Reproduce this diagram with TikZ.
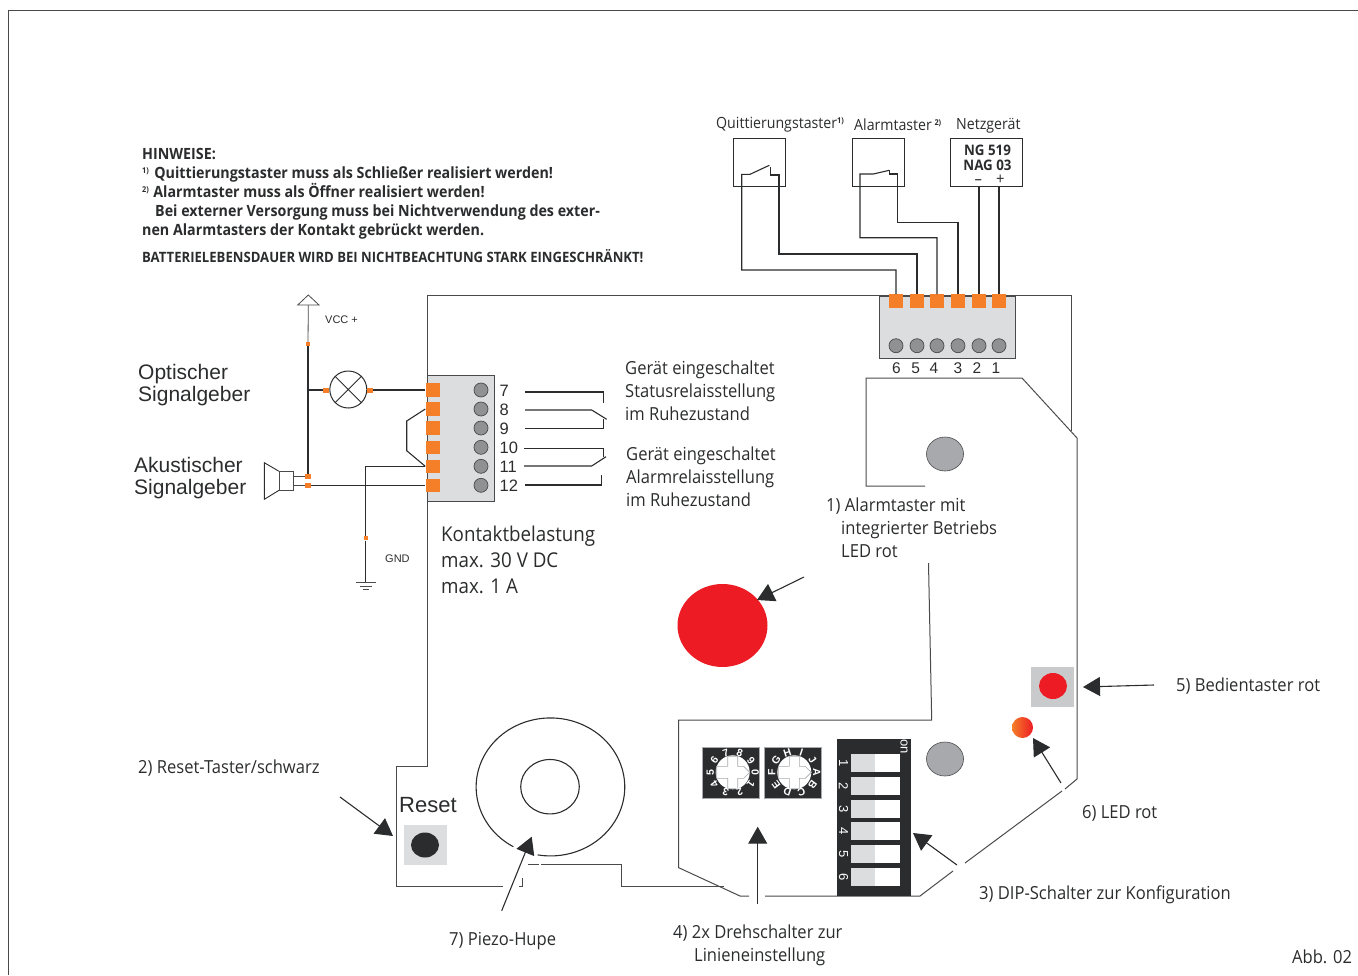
\documentclass[tikz,border=0pt]{standalone}
\usepackage{fontspec}
\setmainfont[FakeStretch=0.92]{Open Sans}
\newfontfamily\arialfont{Liberation Sans}
\usetikzlibrary{arrows.meta, shapes.geometric}
\definecolor{termorange}{HTML}{F47F28}
\definecolor{blockgray}{HTML}{DCDDDF}
\definecolor{basegray}{HTML}{C9CACC}
\definecolor{screwgray}{HTML}{8F9193}
\definecolor{ledgray}{HTML}{A7A9AC}
\definecolor{signalred}{HTML}{ED1C24}
\definecolor{inkblack}{HTML}{2B2C2D}
\definecolor{outlinegray}{HTML}{4A4A4C}
\tikzset{
  wire/.style={draw=inkblack, line width=1.1pt},
  board/.style={draw=outlinegray, line width=1pt},
  pointer/.style={draw=inkblack, line width=1.1pt, -{Triangle[length=17pt,width=19pt]}},
  term/.style={rectangle, fill=termorange, minimum width=14pt, minimum height=13.5pt, inner sep=0pt},
  tick/.style={rectangle, fill=termorange, minimum width=5.5pt, minimum height=5pt, inner sep=0pt},
  screw/.style={circle, draw=outlinegray, fill=screwgray, minimum size=14pt, inner sep=0pt, line width=0.7pt},
  body/.style={anchor=west, align=left, inner sep=0pt, text=inkblack, font=\fontsize{18}{23}\selectfont},
  arial/.style={anchor=west, align=left, inner sep=0pt, text=inkblack, font=\arialfont\fontsize{21}{22}\selectfont},
  pin/.style={inner sep=0pt, text=inkblack, font=\arialfont\fontsize{15.5}{16}\selectfont},
  toplabel/.style={anchor=west, inner sep=0pt, text=inkblack, font=\fontsize{15.4}{16}\selectfont},
  switchbox/.style={draw=inkblack, line width=1.1pt},
  dipslot/.style={rectangle, minimum width=24pt, minimum height=17.5pt, inner sep=0pt},
  dial/.style={rectangle, draw=ledgray, fill=inkblack, minimum width=57pt, minimum height=51pt, inner sep=0pt, line width=0.6pt},
  diallabel/.style={inner sep=0pt, text=white, font=\arialfont\bfseries\fontsize{10.5}{11}\selectfont},
  diplabel/.style={inner sep=0pt, rotate=-90, text=white, font=\arialfont\fontsize{13}{13}\selectfont},
  bigled/.style={ellipse, draw=outlinegray, fill=ledgray, minimum width=37pt, minimum height=34pt, inner sep=0pt, line width=0.6pt},
}
\begin{document}
\begin{tikzpicture}[x=1pt, y=-1pt]
\useasboundingbox (0,0) rectangle (1358,975);
% frame
\draw[outlinegray, line width=0.9pt] (8.5,975) -- (8.5,10) -- (1358,10);

% board outline
\draw[board] (502.7,886.7) -- (396,886.7) -- (396,766.7) -- (427.7,766.7) -- (427.7,295) -- (1071,295) -- (1071,431);
\draw[board] (522.7,878.3) -- (522.7,886.7) -- (519.3,886.7);
\draw[board] (528.3,864) -- (539.3,864);
\draw[board] (541,864) -- (621.7,864) -- (621.7,886.7) -- (724,886.7);
\draw[board] (925,486) -- (866,486) -- (866,378) -- (1022,378) -- (1077,438) -- (1077,779) -- (1065,789);
\draw[board] (965,863) -- (1062,791);
\draw[board] (953,871) -- (920,896) -- (765,896);
\draw[board] (749,896) -- (740,896) -- (678.7,867.7) -- (678.7,720) -- (931.7,720) -- (928.5,563);

% upper terminal block
\node[rectangle, draw=outlinegray, fill=blockgray, minimum width=136pt, minimum height=61.5pt, inner sep=0pt, line width=1pt] (topblock) at (947,327.5) {};
\foreach \n/\x/\lx in {6/896/896.5, 5/917/915.7, 4/937/934, 3/958/958, 2/979/977, 1/999/996} {
  \node[term] (t\n) at (\x,301) {};
  \node[screw] (ts\n) at (\x,345.7) {};
  \node[pin] (tl\n) at (\lx,368) {\n};
}

% switches and supply
\draw[switchbox] (733.3,138.3) rectangle (785.7,186.7);
\draw[switchbox] (852.7,138.3) rectangle (904.3,186.7);
\node[rectangle, draw=inkblack, line width=1.1pt, minimum width=72.5pt, minimum height=48pt, inner sep=0pt] (supply) at (986.3,162.2) {};
\node[inner sep=0pt, align=center, text=inkblack, font=\bfseries\fontsize{14.5}{15.5}\selectfont] (supplytext) at (987.5,158) {NG 519\\NAG 03};
\node[inner sep=0pt, text=inkblack, text height=6pt, text depth=0pt, font=\fontsize{16}{16}\selectfont] (supplyminus) at (978.3,181) {--};
\node[inner sep=0pt, text=inkblack, text height=8pt, text depth=0pt, font=\fontsize{16}{16}\selectfont] (supplyplus) at (1000.3,180.5) {+};
\coordinate (qleft) at (750,174.3);
\coordinate (qblade) at (769.3,165.3);
\coordinate (qright) at (770.7,166.7);
\coordinate (aleft) at (873.3,174);
\coordinate (ablade) at (889.3,170.3);
\draw[wire] (qblade) -- (qleft) -- (741.7,174.3) -- (741.7,270) -| (t6.north);
\draw[wire] (qright) -- (770.7,175) -- (779,175) -- (779,254) -| (t5.north);
\draw[wire] (ablade) -- (aleft) -- (860,174) -- (860,237.7) -| (t4.north);
\draw[wire] (ablade) -- (889.3,174) -- (897.3,174) -- (897.3,222.3) -| (t3.north);
\draw[wire] (t2.north |- supply.south) -- (t2.north);
\draw[wire] (t1.north |- supply.south) -- (t1.north);
\node[toplabel] (labelquit) at (716,124.5) {Quittierungstaster\textsuperscript{\bfseries\fontsize{8}{8}\selectfont 1)}};
\node[toplabel] (labelalarm) at (854,125) {Alarmtaster\,\textsuperscript{\bfseries\fontsize{8}{8}\selectfont 2)}};
\node[toplabel] (labelnetz) at (956,126) {Netzgerät};

% notes
\node[anchor=north west, align=left, inner sep=0pt, text=inkblack, font=\bfseries\fontsize{15.5}{19}\selectfont] (notes) at (142,148) {HINWEISE:\\
\textsuperscript{\fontsize{8}{8}\selectfont 1)}\hspace{5pt}Quittierungstaster muss als Schließer realisiert werden!\\
\textsuperscript{\fontsize{8}{8}\selectfont 2)}\hspace{4pt}Alarmtaster muss als Öffner realisiert werden!\\
\hspace*{13pt}Bei externer Versorgung muss bei Nichtverwendung des exter-\\
nen Alarmtasters der Kontakt gebrückt werden.};
\node[anchor=west, inner sep=0pt, text=inkblack, font=\bfseries\fontsize{14.25}{15}\selectfont] (battery) at (142,256.5) {BATTERIELEBENSDAUER WIRD BEI NICHTBEACHTUNG STARK EINGESCHRÄNKT!};

% left terminal block
\node[rectangle, draw=outlinegray, fill=blockgray, minimum width=67.3pt, minimum height=126.4pt, inner sep=0pt, line width=1pt] (relay) at (461.3,438.5) {};
\foreach \n/\y in {7/390, 8/409, 9/428, 10/447.3, 11/466.3, 12/485.3} {
  \node[term] (k\n) at (432.5,\y) {};
  \node[screw] (ks\n) at (481,\y) {};
  \node[pin, anchor=west, font=\arialfont\fontsize{16.5}{17}\selectfont] (kl\n) at (499.5,\y+0.5) {\n};
}
\coordinate (bridgeup) at (406.7,421);
\coordinate (bridgedown) at (406.7,450.7);
\draw[wire] (k8.west) -- (bridgeup) -- (bridgedown) -- (k11.west);

% lamp and horn
\node[circle, draw=inkblack, fill=white, minimum size=37pt, inner sep=0pt, line width=1pt] (lamp) at (348.3,389.5) {};
\draw[inkblack, line width=0.8pt] (lamp.45) -- (lamp.225) (lamp.135) -- (lamp.315);
\node[tick] (lampl) at (326,390) {};
\node[tick] (lampr) at (370,390) {};
\node[tick, minimum width=4pt, minimum height=4pt] (vcctick) at (308,344) {};
\node[tick] (hornup) at (308,476.3) {};
\node[tick] (horndown) at (308,485.3) {};
\node[tick, minimum width=4pt, minimum height=4pt] (gndtick) at (365.7,538.3) {};
\coordinate (vcctop) at (308.3,305);
\coordinate (vccjoin) at (308,390);
\draw[outlinegray, line width=0.8pt, fill=white] (297.7,305) -- (308.3,295) -- (319,305) -- cycle;
\draw[outlinegray, line width=0.8pt] (vcctop) -- (vcctick);
\draw[wire] (vcctick) -- (hornup);
\draw[wire] (vccjoin) -- (lampl);
\draw[wire] (lampr) -- (k7.west);
\draw[wire] (horndown) -- (k12.west);
\draw[wire, line width=0.9pt] (k11.west) -| (gndtick);
\draw[wire, line width=0.9pt] (gndtick) -- (365.7,582.3);
\draw[outlinegray, line width=0.9pt] (355.7,582.3) -- (376,582.3) (360,586) -- (371.7,586) (362.7,589.3) -- (369,589.3);
\node[rectangle, draw=outlinegray, minimum width=14.4pt, minimum height=18.3pt, inner sep=0pt, line width=0.9pt] (horn) at (286.5,480.8) {};
\draw[inkblack, line width=0.9pt] (horn.north west) -- (264.3,462.7) -- (264.3,499.3) -- (horn.south west);
\draw[outlinegray, line width=0.8pt] (horn.east |- hornup) -- (hornup) (horn.east |- horndown) -- (horndown);
\node[arial, font=\arialfont\fontsize{11}{12}\selectfont] (labelvcc) at (325,320) {VCC +};
\node[arial, font=\arialfont\fontsize{11}{12}\selectfont] (labelgnd) at (385,559) {GND};
\node[arial] (labelopt) at (138,385) {Optischer\\Signalgeber};
\node[arial] (labelaku) at (134,478) {Akustischer\\Signalgeber};

% relay contacts
\draw[wire] (525,392) -- (603.3,392) -- (603.3,402.7);
\draw[wire] (525,410) -- (591.7,410) -- (606.7,419.3);
\draw[wire] (525,428.3) -- (603.3,428.3) -- (603.3,419.3);
\draw[wire] (524,448.3) -- (603.3,448.3) -- (603.3,456.7);
\draw[wire] (524,466) -- (591.7,466) -- (606,456.7);
\draw[wire] (525,485) -- (601.7,485) -- (601.7,475);
\node[body] (statustext) at (625,391) {Gerät eingeschaltet\\Statusrelaisstellung\\im Ruhezustand};
\node[body] (alarmtext) at (626,477) {Gerät eingeschaltet\\Alarmrelaisstellung\\im Ruhezustand};
\node[body, font=\fontsize{20.4}{26}\selectfont] (loadtext) at (441,560) {Kontaktbelastung\\max. 30 V DC\\max. 1 A};

% alarm button
\node[ellipse, fill=signalred, minimum width=90pt, minimum height=83pt, inner sep=0pt] (alarmled) at (722.5,625.5) {};
\node[bigled] (ledup) at (945,454) {};
\node[bigled] (leddown) at (945,759) {};
\node[body] (label1) at (826,527.5) {1) Alarmtaster mit\\\hspace*{15pt}integrierter Betriebs\\\hspace*{15pt}LED rot};
\coordinate (from1) at (804,577);
\draw[pointer] (from1) -- (757,600);

% operating button and LED
\node[rectangle, fill=basegray, minimum width=43pt, minimum height=40pt, inner sep=0pt] (bedienbase) at (1052.5,687) {};
\node[ellipse, fill=signalred, minimum width=28pt, minimum height=26pt, inner sep=0pt] (bedien) at (1053,686) {};
\shade[left color=termorange, right color=signalred] (1022.5,727.5) circle[radius=10.5];
\node[body] (label5) at (1176,686) {5) Bedientaster rot};
\node[body] (label6) at (1082,813) {6) LED rot};
\coordinate (from5) at (1154,685);
\coordinate (from6) at (1061,783);
\draw[pointer] (from5) -- (1083,687);
\draw[pointer] (from6) -- (1033,738);

% reset
\node[rectangle, fill=blockgray, minimum width=43pt, minimum height=40pt, inner sep=0pt] (resetbase) at (425.3,845) {};
\node[ellipse, fill=inkblack, minimum width=28pt, minimum height=25pt, inner sep=0pt] (reset) at (425,845) {};
\node[arial, font=\arialfont\fontsize{22}{23}\selectfont] (labelreset) at (399,805) {Reset};
\node[body] (label2) at (138,768) {2) Reset-Taster/schwarz};
\coordinate (from2) at (340,797);
\draw[pointer] (from2) -- (393,836);

% piezo
\draw[inkblack, line width=1.1pt] (513.3,846.7) arc[start angle=120, end angle=460, x radius=74.3, y radius=69];
\node[ellipse, draw=inkblack, minimum width=58.6pt, minimum height=54.4pt, inner sep=0pt, line width=1.1pt] (piezo) at (550,786.7) {};
\node[body] (label7) at (449,941.5) {7) Piezo-Hupe};
\coordinate (from7) at (501.7,910.7);
\draw[pointer] (from7) -- (531.7,836.7);

% rotary switches
\node[dial] (dialleft) at (730.8,772.8) {};
\node[dial] (dialright) at (792.7,772.8) {};
\foreach \cx/\names in {732.7/{0,1,2,3,4,5,6,7,8,9}, 794.3/{A,B,C,D,E,F,G,H,I,J}} {
  \fill[white] (\cx,772.3) circle[radius=17];
  \draw[ledgray, fill=white, line width=0.6pt] (\cx-5,756.3) -- (\cx+5,756.3) -- (\cx+5,766.3) -- (\cx+11,766.3) -- (\cx+17,772.3) -- (\cx+11,778.3) -- (\cx+5,778.3) -- (\cx+5,788.3) -- (\cx-5,788.3) -- (\cx-5,778.3) -- (\cx-16,778.3) -- (\cx-16,766.3) -- (\cx-5,766.3) -- cycle;
  \foreach \lab [count=\i from 0] in \names {
    \node[diallabel, rotate=-36*\i-90] at ({\cx+22.5*cos(36*\i)},{772.3+20.5*sin(36*\i)}) {\lab};
  }
}
\node[body] (label4a) at (673,933.5) {4) 2x Drehschalter zur};
\node[body] (label4b) at (694,956.5) {Linieneinstellung};
\coordinate (from4) at (757.7,904);
\draw[pointer] (from4) -- (757.7,826.7);

% DIP switch
\node[rectangle, fill=inkblack, minimum width=73.7pt, minimum height=156.7pt, inner sep=0pt] (dip) at (874.2,817.7) {};
\foreach \n/\y in {1/762.8, 2/786.1, 3/808.8, 4/831.1, 5/853.8, 6/877} {
  \node[dipslot, fill=blockgray] (dipl\n) at (863,\y) {};
  \node[dipslot, fill=white, minimum width=25pt] (dipr\n) at (887.5,\y) {};
  \node[diplabel] (dipn\n) at (843.5,\y) {\n};
}
\node[diplabel] (dipon) at (904,746.7) {on};
\node[body] (label3) at (979,894.5) {3) DIP-Schalter zur Konfiguration};
\coordinate (from3) at (957,865);
\draw[pointer] (from3) -- (913,833);

\node[body] (figno) at (1292,957) {Abb. 02};
\end{tikzpicture}
\end{document}
